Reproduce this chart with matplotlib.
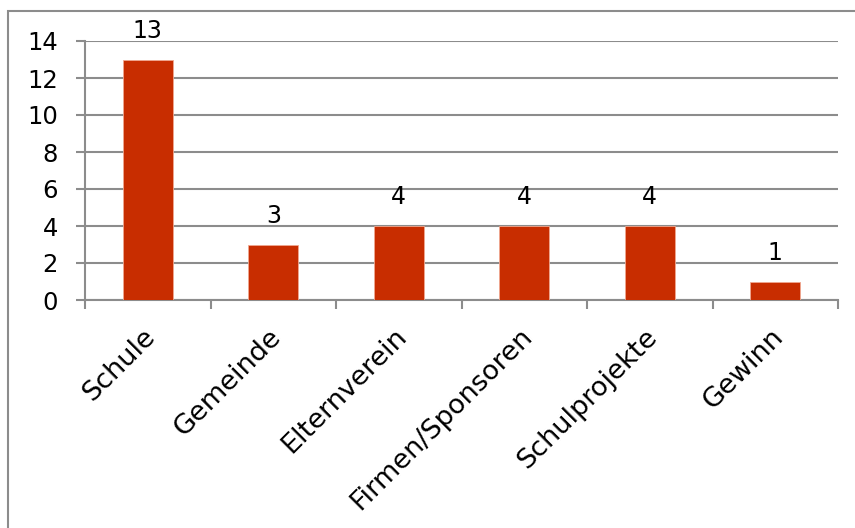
import numpy as np
import matplotlib
matplotlib.use('Agg')
import matplotlib.pyplot as plt
from matplotlib.patches import Rectangle
import matplotlib.transforms as mtransforms

# data
kategorien = ['Schule', 'Gemeinde', 'Elternverein', 'Firmen/Sponsoren', 'Schulprojekte', 'Gewinn']
werte = [13, 3, 4, 4, 4, 1]
yticks = [0, 2, 4, 6, 8, 10, 12, 14]

plt.rcParams['font.family'] = ['DejaVu Sans']
grau = '#8c8c8c'
rot = '#c82d00'

W, H = 855, 528
fig = plt.figure(figsize=(W/100, H/100), dpi=100)
ax = fig.add_axes([85/W, 1-300/H, (838-85)/W, (300-41)/H])

x = np.arange(len(kategorien))
ax.bar(x, werte, width=0.4, color=rot, edgecolor='#f0a890', linewidth=0.6, zorder=3)
for xi, v in zip(x, werte):
	ax.annotate(str(v), (xi, v), xytext=(0, 12), textcoords='offset points',
		ha='center', va='bottom', fontsize=17, zorder=4)

ax.set_xlim(-0.5, len(kategorien)-0.5)
ax.set_ylim(0, 14)
ax.set_yticks(yticks)
ax.yaxis.grid(True, color=grau, linewidth=1.5, zorder=0)
ax.tick_params(axis='y', length=6.5, width=1.5, color=grau, pad=13, labelsize=17.5)

ax.set_xticks(x)
ax.set_xticklabels(kategorien, rotation=45, ha='right', va='top', rotation_mode='anchor', fontsize=19.5)
ax.set_xticks(np.arange(len(kategorien)+1)-0.5, minor=True)
ax.tick_params(axis='x', which='major', length=0, pad=17)
ax.tick_params(axis='x', which='minor', length=6.5, width=1.5, color=grau)
off = mtransforms.ScaledTranslation(-5/100, 0, fig.dpi_scale_trans)
for lab in ax.get_xticklabels():
	lab.set_transform(lab.get_transform() + off)

for s in ['top', 'right']:
	ax.spines[s].set_visible(False)
for s in ['left', 'bottom']:
	ax.spines[s].set_color(grau)
	ax.spines[s].set_linewidth(1.5)

# outer frame
fig.patches.append(Rectangle((8/W, -0.1), 1.1, 1-11/H+0.1, transform=fig.transFigure,
	fill=False, edgecolor=grau, linewidth=1.5, clip_on=False))

plt.savefig('out.png', dpi=100)
